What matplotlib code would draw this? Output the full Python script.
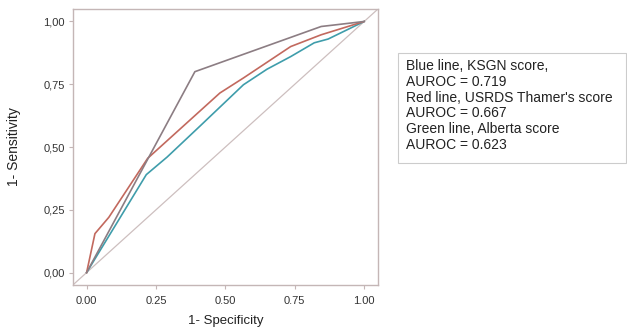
import matplotlib.pyplot as plt
from matplotlib.patches import Rectangle
from matplotlib import font_manager

# ROC curve points (1-specificity, 1-sensitivity)
gray_x = [0.0, 0.39, 0.845, 0.90, 1.0]
gray_y = [0.0, 0.80, 0.980, 0.987, 1.0]

red_x = [0.0, 0.03, 0.08, 0.22, 0.35, 0.48, 0.565, 0.735, 0.845, 1.0]
red_y = [0.0, 0.155, 0.22, 0.455, 0.585, 0.715, 0.775, 0.90, 0.947, 1.0]

blue_x = [0.0, 0.215, 0.29, 0.41, 0.565, 0.65, 0.735, 0.82, 0.87, 1.0]
blue_y = [0.0, 0.39, 0.46, 0.585, 0.748, 0.81, 0.86, 0.915, 0.93, 1.0]

ticks = [0.0, 0.25, 0.5, 0.75, 1.0]
x_labels = ['0.00', '0.25', '0.50', '0.75', '1.00']
y_labels = ['0,00', '0,25', '0,50', '0,75', '1,00']

legend_lines = ["Blue line, KSGN score,",
                "AUROC = 0.719",
                "Red line, USRDS Thamer's score",
                "AUROC = 0.667",
                "Green line, Alberta score",
                "AUROC = 0.623"]

plt.rcParams['font.family'] = ['Liberation Sans', 'DejaVu Sans']
names = {f.name for f in font_manager.fontManager.ttflist}
tick_font = 'Liberation Sans Narrow' if 'Liberation Sans Narrow' in names else 'Liberation Sans'

fig = plt.figure(figsize=(6.27, 3.30), dpi=100)
ax = fig.add_axes([0.116, 0.136, 0.487, 0.837])

frame_col = '#c4b6b6'
ax.plot([-0.05, 1.05], [-0.05, 1.05], color='#cdbfbf', lw=0.9)
ax.plot(blue_x, blue_y, color='#3f9dab', lw=1.2)
ax.plot(red_x, red_y, color='#c2695e', lw=1.2)
ax.plot(gray_x, gray_y, color='#8c7d83', lw=1.2)

ax.set_xlim(-0.05, 1.05)
ax.set_ylim(-0.05, 1.05)
ax.set_xticks(ticks)
ax.set_xticklabels(x_labels, family=tick_font)
ax.set_yticks(ticks)
ax.set_yticklabels(y_labels, family=tick_font)
ax.tick_params(length=3, width=0.8, color=frame_col, labelsize=8, labelcolor='#333333', pad=2.5)
ax.tick_params(axis='x', pad=5)
for s in ax.spines.values():
    s.set_color(frame_col)
    s.set_linewidth(1.0)

ax.set_xlabel('1- Specificity', fontsize=9.5, color='#222222', labelpad=6)
ax.set_ylabel('1- Sensitivity', fontsize=10, color='#222222', labelpad=16)

# legend box
fig.patches.append(Rectangle((398 / 627, 1 - 163 / 330), 228 / 627, 110 / 330,
                             transform=fig.transFigure, facecolor='white',
                             edgecolor='#cccccc', lw=0.8))
for i, line in enumerate(legend_lines):
    fig.text(406 / 627, 1 - (66 + i * 15.8) / 330, line, fontsize=10,
             color='#222222', va='center', ha='left')

fig.savefig('out.png', dpi=100)
